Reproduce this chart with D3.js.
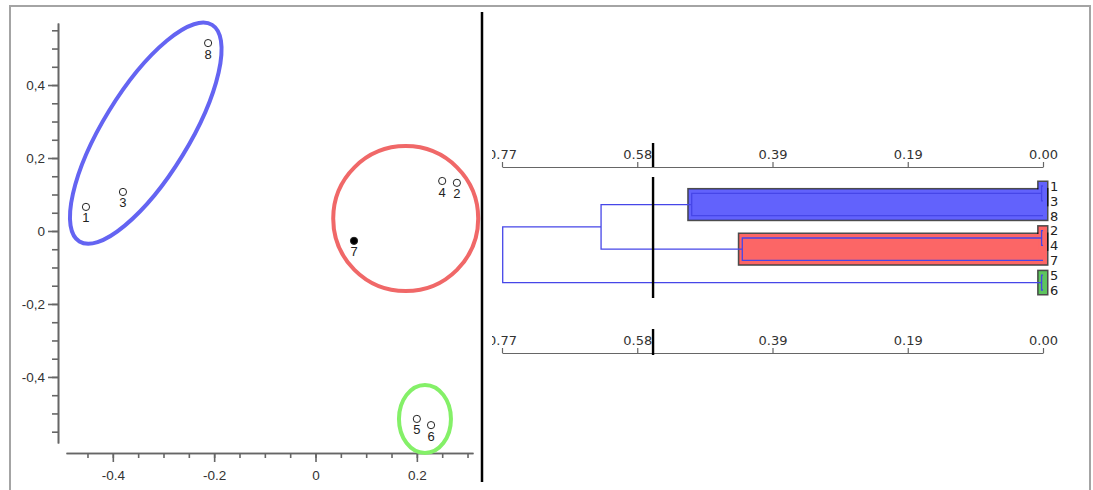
<!DOCTYPE html>
<html><head><meta charset="utf-8">
<script src="https://cdn.jsdelivr.net/npm/d3@7"></script>
<style>body{margin:0;background:#fff}svg{display:block}</style>
</head><body><svg id="c" width="1093" height="490"></svg>
<script>
// ---------- scatter data ----------
const pointIds    = ["1","2","3","4","5","6","7","8"];
const pointX      = [-0.453, 0.279, -0.380, 0.250, 0.200, 0.228, 0.076, -0.212];
const pointY      = [0.066, 0.132, 0.107, 0.137, -0.515, -0.532, -0.027, 0.515];
const pointFilled = [false,false,false,false,false,false,true,false];

const xMajorTicks  = [-0.4, -0.2, 0, 0.2];
const xMajorLabels = ["-0.4", "-0.2", "0", "0.2"];
const yMajorTicks  = [-0.4, -0.2, 0, 0.2, 0.4];
const yMajorLabels = ["-0,4", "-0,2", "0", "0,2", "0,4"];

// group outlines (centre in data units)
const groupCx = [-0.335, 0.178, 0.216];
const groupCy = [0.268, 0.034, -0.515];

// ---------- dendrogram data ----------
const leafOrder  = ["1","3","8","2","4","7","5","6"];
const nodeNames  = ["n13","nA","n24","nB","n56","nAB","root"];
const nodeLeft   = ["1","n13","2","n24","5","nA","nAB"];
const nodeRight  = ["3","8","4","7","6","nB","n56"];
const nodeHeight = [0.002, 0.500, 0.002, 0.428, 0.002, 0.629, 0.769];
const clusterRoots = ["nA","nB","n56"];
const dendroTicks  = [0.77, 0.5775, 0.385, 0.1925, 0];
const dendroLabels = ["0.77","0.58","0.39","0.19","0.00"];
const threshold = 0.555;

// ---------- styles ----------
const groupStroke = ["#6464f2","#f06868","#84f068"];
const groupGeom = [{rx:127, ry:43, rot:-58.5}, {rx:72.5, ry:72.5, rot:0}, {rx:26, ry:34, rot:0}];
const clusterFill = ["#6262fc","#fc6666","#5ec45e"];

const svg = d3.select("#c");
svg.append("rect").attr("x",10).attr("y",6).attr("width",1080).attr("height",500)
  .attr("fill","#fff").attr("stroke","#a4a4a4").attr("stroke-width",2);

// ---------- scatter ----------
const x = d3.scaleLinear().domain([-0.4924, 0.3108]).range([66, 473]);
const y = d3.scaleLinear().domain([-0.581, 0.570]).range([443, 23]);
const axisColor = "#666";
const leftFont = "'Liberation Sans', Arial, sans-serif";

function styleAxis(g){
  g.selectAll("path,line").attr("stroke", axisColor).attr("stroke-width",1.6);
  g.selectAll("text").attr("fill","#333").style("font-family",leftFont).style("font-size","13.5px");
}
const xMinor = d3.range(-0.45, 0.3001, 0.05);
const yMinor = d3.range(-0.55, 0.5501, 0.05);

svg.append("g").attr("transform","translate(58,0)")
  .call(d3.axisLeft(y).tickValues(yMinor).tickSize(6).tickSizeOuter(0).tickFormat(""))
  .call(styleAxis);
svg.append("g").attr("transform","translate(58,0)")
  .call(d3.axisLeft(y).tickValues(yMajorTicks).tickSize(10).tickSizeOuter(0).tickPadding(3)
    .tickFormat((d,i)=>yMajorLabels[i]))
  .call(styleAxis);
svg.append("g").attr("transform","translate(0,453)")
  .call(d3.axisBottom(x).tickValues(xMinor).tickSize(5).tickSizeOuter(0).tickFormat(""))
  .call(styleAxis);
svg.append("g").attr("transform","translate(0,453)")
  .call(d3.axisBottom(x).tickValues(xMajorTicks).tickSize(9).tickSizeOuter(0).tickPadding(8)
    .tickFormat((d,i)=>xMajorLabels[i]))
  .call(styleAxis);

// group outlines
groupCx.forEach((cx,i)=>{
  const gg = groupGeom[i];
  svg.append("ellipse")
    .attr("transform",`translate(${x(cx)},${y(groupCy[i])}) rotate(${gg.rot})`)
    .attr("rx",gg.rx).attr("ry",gg.ry)
    .attr("fill","none").attr("stroke",groupStroke[i]).attr("stroke-width",4);
});

// points
const pts = svg.append("g");
pointIds.forEach((id,i)=>{
  pts.append("circle").attr("cx",x(pointX[i])).attr("cy",y(pointY[i])).attr("r",3.6)
    .attr("fill",pointFilled[i]?"#000":"#fff").attr("stroke","#222").attr("stroke-width",1);
  pts.append("text").attr("x",x(pointX[i])).attr("y",y(pointY[i])+15.5)
    .attr("text-anchor","middle").attr("fill","#222")
    .style("font-family",leftFont).style("font-size","13px").text(id);
});

// divider
svg.append("line").attr("x1",482).attr("x2",482).attr("y1",12).attr("y2",482)
  .attr("stroke","#000").attr("stroke-width",2.5);

// ---------- dendrogram ----------
const rightFont = "'DejaVu Sans', Verdana, sans-serif";
svg.append("clipPath").attr("id","rc").append("rect")
  .attr("x",492).attr("y",0).attr("width",600).attr("height",490);
const R = svg.append("g").attr("clip-path","url(#rc)");

const xs = d3.scaleLinear().domain([0.77, 0]).range([502, 1043]);
const ys = d3.scalePoint().domain(leafOrder).range([186, 290]);

const info = {};
leafOrder.forEach(l => info[l] = {y: ys(l), h: 0, leaf: true});
nodeNames.forEach((n,i)=>{
  const a = info[nodeLeft[i]], b = info[nodeRight[i]];
  info[n] = {y:(a.y+b.y)/2, h:nodeHeight[i], left:nodeLeft[i], right:nodeRight[i]};
});

// cluster highlight boxes
const pad = 4;
const strokeLayer = R.append("g"), fillLayer = R.append("g");
clusterRoots.forEach((c,ci)=>{
  const stack = [c];
  while(stack.length){
    const n = stack.pop(), d = info[n];
    if(d.leaf) continue;
    const y1 = Math.min(info[d.left].y, info[d.right].y) - pad;
    const y2 = Math.max(info[d.left].y, info[d.right].y) + pad;
    const x1 = xs(d.h) - pad + 1, x2 = xs(0) + pad;
    [strokeLayer, fillLayer].forEach((L,k)=>{
      L.append("rect").attr("x",x1).attr("y",y1).attr("width",x2-x1).attr("height",y2-y1)
        .attr("fill",clusterFill[ci])
        .attr("stroke",k===0?"rgba(0,0,0,0.7)":"none").attr("stroke-width",3);
    });
    stack.push(d.left, d.right);
  }
});

// dendrogram links
const link = d3.path();
nodeNames.forEach(n=>{
  const d = info[n], a = info[d.left], b = info[d.right];
  link.moveTo(xs(a.h), a.y); link.lineTo(xs(d.h), a.y);
  link.lineTo(xs(d.h), b.y); link.lineTo(xs(b.h), b.y);
});
R.append("path").attr("d",link.toString()).attr("fill","none")
  .attr("stroke","#4646e8").attr("stroke-width",1.3);

// leaf labels
leafOrder.forEach(l=>{
  R.append("text").attr("x",1050).attr("y",ys(l)+4.8).attr("fill","#222")
    .style("font-family",rightFont).style("font-size","13px").text(l);
});

// axes
function styleR(g){
  g.selectAll("path,line").attr("stroke","#666").attr("stroke-width",1.2);
  g.selectAll("text").attr("fill","#333").style("font-family",rightFont).style("font-size","13px");
}
const topY = 167, botY = 353;
[topY, botY].forEach(ay=>{
  R.append("g").attr("transform",`translate(0,${ay})`)
    .call(d3.axisTop(xs).tickValues(dendroTicks).tickSize(5).tickSizeOuter(0).tickPadding(3)
      .tickFormat((d,i)=>dendroLabels[i]))
    .call(styleR);
});

// threshold line
const tx = xs(threshold);
[[topY-24, topY],[177, 298],[botY-24, botY+2]].forEach(s=>{
  R.append("line").attr("x1",tx).attr("x2",tx).attr("y1",s[0]).attr("y2",s[1])
    .attr("stroke","#000").attr("stroke-width",2.4);
});
</script></body></html>
